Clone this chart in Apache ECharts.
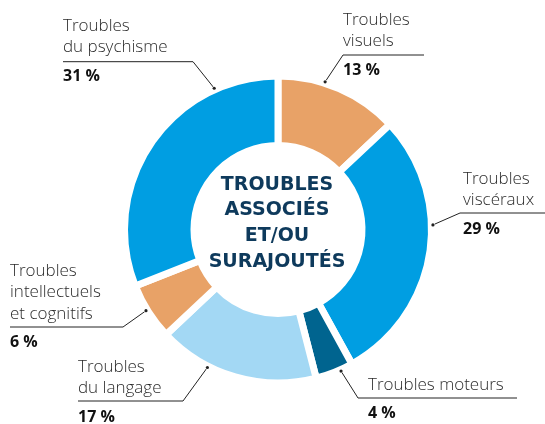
<!DOCTYPE html>
<html>
<head>
<meta charset="utf-8">
<script src="https://cdn.jsdelivr.net/npm/echarts@6/dist/echarts.min.js"></script>
<style>
  html, body { margin: 0; padding: 0; background: #fff; }
  #main { width: 545px; height: 424px; }
</style>
</head>
<body>
<div id="main"></div>
<script>
    // données
    var names = ['Troubles\nvisuels', 'Troubles\nviscéraux', 'Troubles moteurs',
                 'Troubles\ndu langage', 'Troubles\nintellectuels\net cognitifs', 'Troubles\ndu psychisme'];
    var values = [13, 29, 4, 17, 6, 31];
    var colors = ['#E8A267', '#009EE2', '#00648F', '#A3D8F4', '#E8A267', '#009EE2'];
    var centerTitle = 'TROUBLES\nASSOCIÉS\nET/OU\nSURAJOUTÉS';

    // mise en page des étiquettes (texte, coude, fin du trait, angle d'accroche)
    var cx = 278, cy = 229.5;
    var labelPos = [
        {x: 343, top: 9,   elbow: [343, 55],  end: 424, angle: 17.7},
        {x: 463, top: 168, elbow: [460, 213], end: 545, angle: 88.3},
        {x: 368, top: 374, elbow: [358, 398], end: 517, angle: 156},
        {x: 78,  top: 356, elbow: [183, 401], end: 78,  angle: 207.1},
        {x: 10,  top: 260, elbow: [123, 327], end: 10,  angle: 238.4},
        {x: 63,  top: 15,  elbow: [193, 61.7], end: 63, angle: 335.7}
    ];

    function anchor(a) {
        var r = 155, rad = a * Math.PI / 180;
        return [cx + r * Math.sin(rad), cy - r * Math.cos(rad)];
    }

    var chart = echarts.init(document.getElementById('main'));
    var option = {
        animation: false,
        title: {
            text: centerTitle,
            left: 272,
            top: 167,
            textAlign: 'center',
            textStyle: {
                fontFamily: 'DejaVu Sans',
                fontWeight: 'bold',
                fontSize: 19,
                lineHeight: 25.7,
                color: '#0E3A5C'
            }
        },
        graphic: labelPos.map(function (p) {
            var pt = anchor(p.angle);
            return {type: 'circle', shape: {cx: pt[0], cy: pt[1], r: 1.6}, style: {fill: '#222'}, z: 100};
        }),
        series: [
            {
                type: 'pie',
                center: [cx, cy],
                radius: [84, 153.5],
                startAngle: 90,
                clockwise: true,
                avoidLabelOverlap: false,
                itemStyle: {
                    borderColor: '#fff',
                    borderWidth: 7
                },
                data: values.map(function (v, i) {
                    return {name: names[i], value: v, itemStyle: {color: colors[i]}};
                }),
                label: {
                    show: true,
                    formatter: function (params) {
                        var lines = params.name.split('\n').map(function (s) { return '{n|' + s + '}'; });
                        return lines.join('\n') + '\n{p|' + params.value + ' %}';
                    },
                    rich: {
                        n: {
                            fontFamily: 'Open Sans',
                            fontWeight: 300,
                            fontSize: 17,
                            lineHeight: 21.5,
                            color: '#2b2b2b'
                        },
                        p: {
                            fontFamily: 'Open Sans',
                            fontWeight: 'bold',
                            fontSize: 16,
                            lineHeight: 36,
                            color: '#111'
                        }
                    }
                },
                labelLine: {
                    show: true,
                    lineStyle: {color: '#222', width: 1}
                },
                labelLayout: function (params) {
                    var p = labelPos[params.dataIndex];
                    return {
                        x: p.x,
                        y: p.top,
                        align: 'left',
                        verticalAlign: 'top',
                        labelLinePoints: [anchor(p.angle), p.elbow, [p.end, p.elbow[1]]]
                    };
                }
            }
        ]
    };
    chart.setOption(option);
</script>
</body>
</html>
